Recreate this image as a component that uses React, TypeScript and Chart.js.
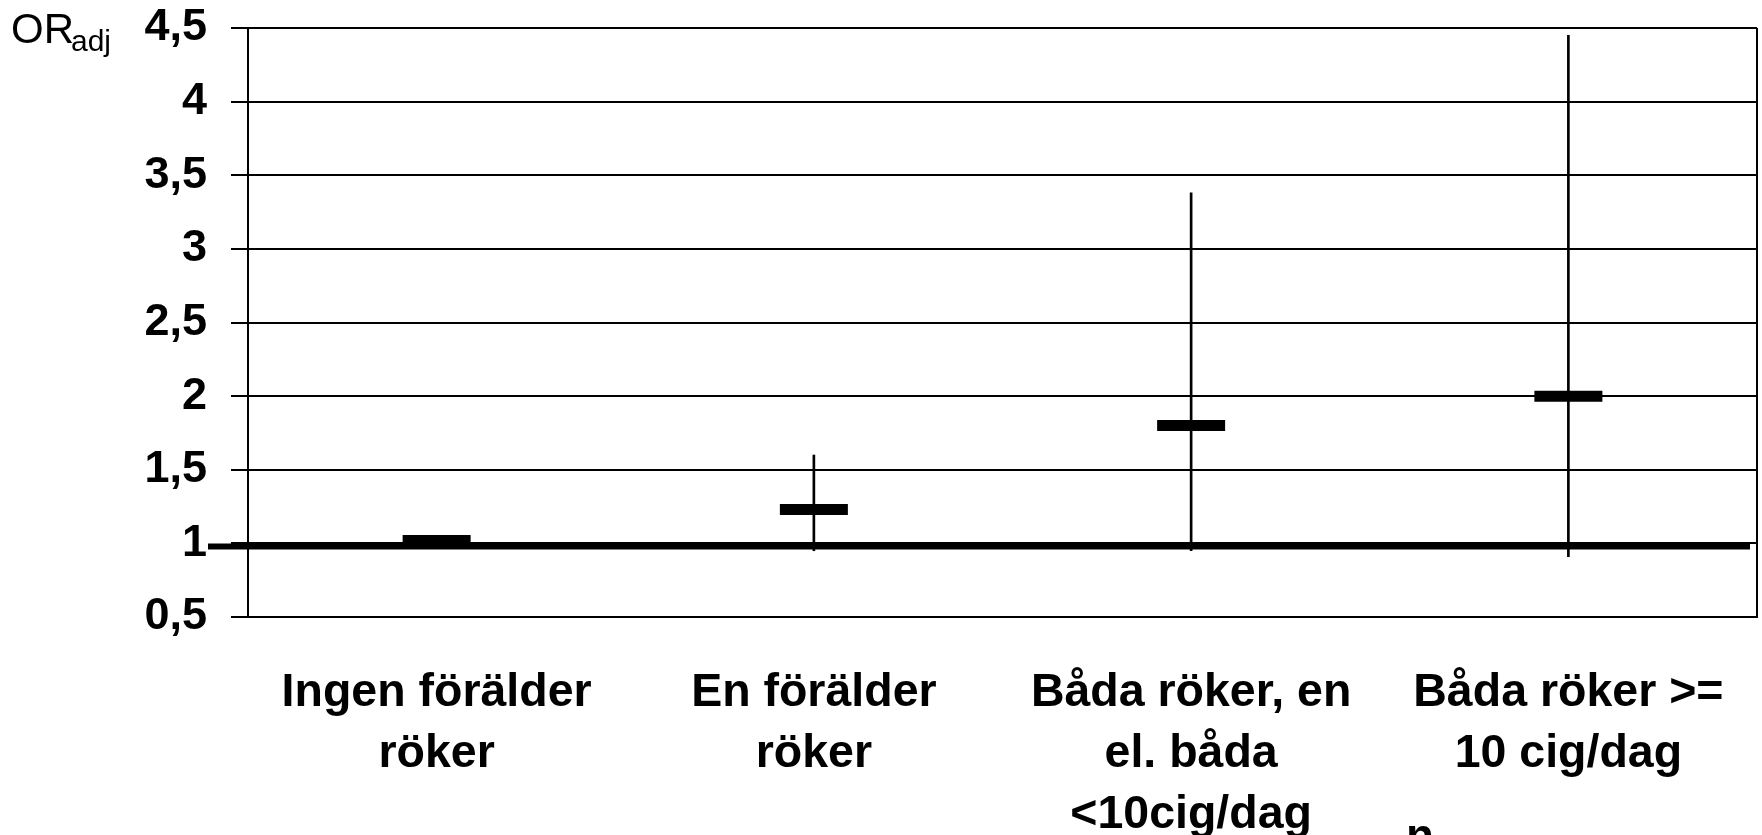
import React, { useEffect, useRef } from 'react';
import { Chart, registerables } from 'chart.js';

Chart.register(...registerables);

// ---- data ----
const CATEGORIES: string[][] = [
  ['Ingen förälder', 'röker'],
  ['En förälder', 'röker'],
  ['Båda röker, en', 'el. båda', '<10cig/dag'],
  ['Båda röker >=', '10 cig/dag'],
];
const OR_ADJ: number[] = [1.02, 1.23, 1.8, 2.0];
const CI_LOW: (number | null)[] = [null, 0.95, 0.95, 0.91];
const CI_HIGH: (number | null)[] = [null, 1.6, 3.38, 4.45];
const Y_TICKS: number[] = [0.5, 1, 1.5, 2, 2.5, 3, 3.5, 4, 4.5];
const Y_TICK_LABELS: string[] = ['0,5', '1', '1,5', '2', '2,5', '3', '3,5', '4', '4,5'];
const REFERENCE_OR = 1;
const AXIS_TITLE = 'OR';
const AXIS_TITLE_SUB = 'adj';
const STRAY_TEXT = 'n';

const FONT = "'Liberation Sans', Arial, sans-serif";

export default function App() {
  const ref = useRef<HTMLCanvasElement>(null);

  useEffect(() => {
    const decorations = {
      id: 'decorations',
      beforeDatasetsDraw(chart: any) {
        const { ctx, chartArea, scales } = chart;
        ctx.save();
        // right frame line
        ctx.strokeStyle = '#000';
        ctx.lineWidth = 2;
        ctx.beginPath();
        ctx.moveTo(chartArea.right, chartArea.top);
        ctx.lineTo(chartArea.right, chartArea.bottom);
        ctx.stroke();
        // reference line at OR = 1
        const y = scales.y.getPixelForValue(REFERENCE_OR) + 3;
        ctx.lineWidth = 6;
        ctx.beginPath();
        ctx.moveTo(208, y);
        ctx.lineTo(chartArea.right - 7, y);
        ctx.stroke();
        ctx.restore();
      },
      afterDraw(chart: any) {
        const { ctx } = chart;
        ctx.save();
        ctx.fillStyle = '#000';
        ctx.textBaseline = 'alphabetic';
        ctx.textAlign = 'left';
        ctx.font = `42px ${FONT}`;
        ctx.fillText(AXIS_TITLE, 11, 43);
        ctx.font = `30px ${FONT}`;
        ctx.fillText(AXIS_TITLE_SUB, 71, 51);
        ctx.font = `bold 46px ${FONT}`;
        ctx.fillText(STRAY_TEXT, 1406, 851);
        ctx.restore();
      },
    };

    const chart = new Chart(ref.current!, {
      type: 'bar',
      data: {
        labels: CATEGORIES,
        datasets: [
          {
            type: 'line',
            label: 'OR',
            data: OR_ADJ,
            showLine: false,
            pointStyle: 'line',
            pointRadius: 34,
            pointHoverRadius: 34,
            pointBorderWidth: 11,
            pointHoverBorderWidth: 11,
            pointBorderColor: '#000',
            pointBackgroundColor: '#000',
            order: 0,
          } as any,
          {
            type: 'bar',
            label: 'CI',
            data: CI_LOW.map((l, i) => (l == null || CI_HIGH[i] == null ? null : [l, CI_HIGH[i] as number])),
            backgroundColor: '#000',
            borderWidth: 0,
            barThickness: 2,
            grouped: false,
            order: 1,
          } as any,
        ],
      },
      options: {
        responsive: false,
        devicePixelRatio: 1,
        animation: false,
        layout: { autoPadding: false, padding: { left: 0, right: 5, top: 28, bottom: 0 } },
        plugins: {
          legend: { display: false },
          tooltip: { enabled: false },
        },
        scales: {
          x: {
            type: 'category',
            offset: true,
            grid: { display: false },
            border: { display: true, color: '#000', width: 2 },
            ticks: {
              color: '#000',
              font: { family: FONT, size: 46.5, weight: 'bold', lineHeight: 1.32 },
              padding: 37,
              maxRotation: 0,
              minRotation: 0,
              autoSkip: false,
            },
            afterFit: (scale: any) => {
              scale.height = 218;
              scale.paddingLeft = 0;
              scale.paddingRight = 0;
            },
          },
          y: {
            type: 'linear',
            min: 0.5,
            max: 4.5,
            afterBuildTicks: (scale: any) => {
              scale.ticks = Y_TICKS.map((v) => ({ value: v }));
            },
            grid: {
              color: '#000',
              lineWidth: 2,
              tickLength: 17,
              tickWidth: 2,
              tickColor: '#000',
            },
            border: { display: true, color: '#000', width: 2 },
            ticks: {
              color: '#000',
              padding: 24,
              font: { family: FONT, size: 45, weight: 'bold', lineHeight: 1.2 },
              callback: (v: any) => {
                const i = Y_TICKS.indexOf(Number(v));
                return i >= 0 ? Y_TICK_LABELS[i] : '';
              },
            },
            afterFit: (scale: any) => {
              scale.width = 248;
              scale.paddingTop = 0;
              scale.paddingBottom = 0;
            },
          },
        },
      },
      plugins: [decorations],
    });
    return () => chart.destroy();
  }, []);

  return (
    <div style={{ position: 'absolute', left: 0, top: 0, width: 1762, height: 835, background: '#fff', overflow: 'hidden' }}>
      <canvas ref={ref} width={1762} height={835} style={{ display: 'block' }} />
    </div>
  );
}
